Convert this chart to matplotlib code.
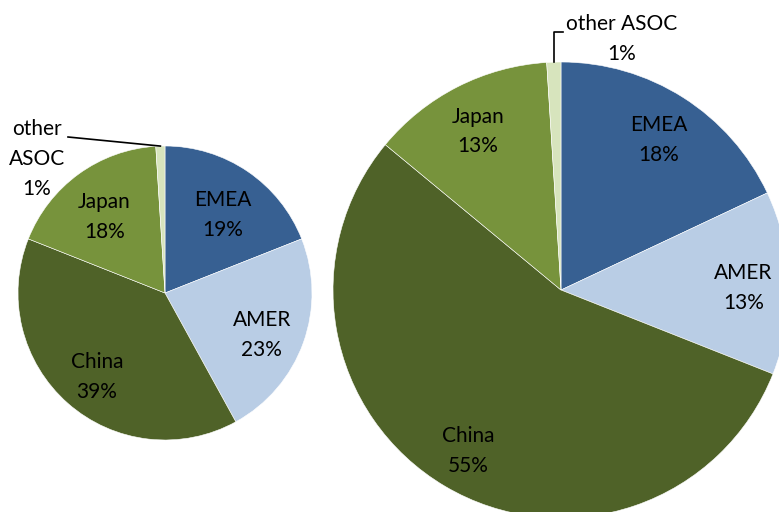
import matplotlib.pyplot as plt
import numpy as np

plt.rcParams['font.family'] = ['Lato', 'DejaVu Sans']

regions = ['EMEA', 'AMER', 'China', 'Japan', 'other ASOC']
share_before = [19, 23, 39, 18, 1]
share_after = [18, 13, 55, 13, 1]
colors = ['#376092', '#b9cde5', '#4f6228', '#77933c', '#d7e4bd']

W, H = 779, 512
FS = 15
LS = 1.6

fig = plt.figure(figsize=(W / 100, H / 100), dpi=100)
ax = fig.add_axes([0, 0, 1, 1])


def draw_pie(values, center, radius, label_frac, drop):
    wedges, _ = ax.pie(values, colors=colors, startangle=90, counterclock=False,
                       center=center, radius=radius, frame=True,
                       wedgeprops=dict(edgecolor='white', linewidth=0.4))
    # category labels inside the larger slices, nudged down a little
    for w, name, v in zip(wedges[:-1], regions[:-1], values[:-1]):
        mid = np.deg2rad((w.theta1 + w.theta2) / 2)
        x = center[0] + label_frac * radius * np.cos(mid)
        y = center[1] + label_frac * radius * np.sin(mid) - drop
        ax.text(x, y, f'{name}\n{v}%', ha='center', va='center',
                fontsize=FS, linespacing=LS, color='black')
    w = wedges[-1]
    mid = np.deg2rad((w.theta1 + w.theta2) / 2)
    edge = (center[0] + radius * np.cos(mid), center[1] + radius * np.sin(mid))
    return edge


# smaller pie on the left
edge = draw_pie(share_before, (165, H - 293), 147, 0.70, 7)
ax.text(37, H - 159, f'other\nASOC\n{share_before[-1]}%', ha='center', va='center',
        fontsize=FS, linespacing=LS)
ax.plot([68, edge[0]], [H - 137, edge[1]], color='black', lw=1.2)

# larger pie on the right
edge = draw_pie(share_after, (561, H - 290), 228, 0.80, 4)
ax.text(622, H - 39, f'other ASOC\n{share_after[-1]}%', ha='center', va='center',
        fontsize=FS, linespacing=LS)
ax.plot([563, edge[0], edge[0]], [H - 32, H - 32, edge[1]], color='black', lw=1.2)

ax.set_xlim(0, W)
ax.set_ylim(0, H)
ax.set_aspect('equal')
ax.axis('off')
fig.savefig('out.png', dpi=100)
